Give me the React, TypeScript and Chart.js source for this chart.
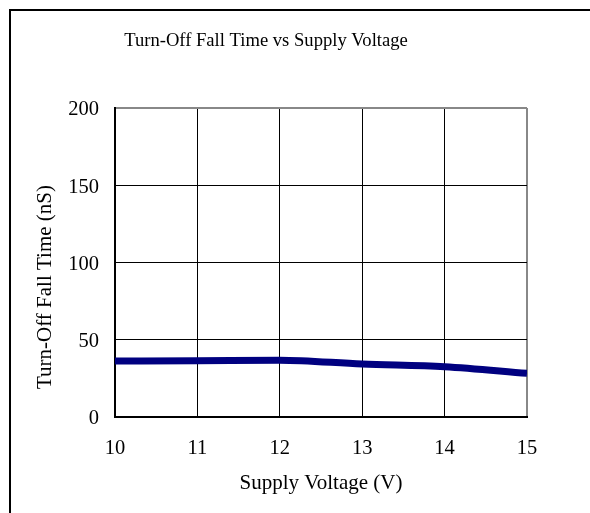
import React, { useEffect, useRef } from "react";
import { Chart, registerables } from "chart.js";

Chart.register(...registerables);

const voltages = [10, 11, 12, 13, 14, 15];
const fallTimes = [36.2, 36.4, 36.8, 34.3, 32.6, 28.3];
const yTicks = [0, 50, 100, 150, 200];
const xTicks = [10, 11, 12, 13, 14, 15];
const chartTitle = "Turn-Off Fall Time vs Supply Voltage";
const xTitle = "Supply Voltage (V)";
const yTitle = "Turn-Off Fall Time (nS)";

const FONT = "'Liberation Serif', 'Times New Roman', serif";

const textPlugin = {
  id: "customTexts",
  afterDraw(chart: any) {
    const ctx = chart.ctx;
    ctx.save();
    ctx.fillStyle = "#000";
    ctx.textAlign = "center";
    ctx.textBaseline = "middle";
    ctx.font = `18.6px ${FONT}`;
    ctx.fillText(chartTitle, 266, 41);
    ctx.font = `21px ${FONT}`;
    ctx.fillText(xTitle, 321, 483);
    ctx.translate(45, 287);
    ctx.rotate(-Math.PI / 2);
    ctx.fillText(yTitle, 0, 0);
    ctx.restore();
  },
};

export default function App() {
  const ref = useRef<HTMLCanvasElement | null>(null);

  useEffect(() => {
    if (!ref.current) return;
    const chart = new Chart(ref.current, {
      type: "line",
      data: {
        datasets: [
          {
            data: voltages.map((v, i) => ({ x: v, y: fallTimes[i] })),
            borderColor: "#000080",
            backgroundColor: "#000080",
            borderWidth: 7,
            pointRadius: 0,
            cubicInterpolationMode: "monotone",
            fill: false,
          },
        ],
      },
      options: {
        animation: false,
        responsive: true,
        maintainAspectRatio: false,
        layout: { padding: { left: 10, right: 63, top: 108, bottom: 0 } },
        plugins: {
          legend: { display: false },
          title: { display: false },
          tooltip: { enabled: false },
        },
        scales: {
          x: {
            type: "linear",
            min: 10,
            max: 15,
            afterFit: (s: any) => {
              s.height = 96;
            },
            afterBuildTicks: (s: any) => {
              s.ticks = xTicks.map((v) => ({ value: v }));
            },
            ticks: {
              color: "#000",
              font: { family: FONT, size: 20.5 },
              padding: 19,
              maxRotation: 0,
            },
            grid: {
              drawTicks: false,
              color: (c: any) => (c.tick && c.tick.value === 15 ? "#888" : "#000"),
              lineWidth: (c: any) => (c.tick && c.tick.value === 15 ? 2 : 1),
            },
            border: { color: "#000", width: 2 },
          },
          y: {
            min: 0,
            max: 200,
            afterFit: (s: any) => {
              s.width = 105;
            },
            afterBuildTicks: (s: any) => {
              s.ticks = yTicks.map((v) => ({ value: v }));
            },
            ticks: {
              color: "#000",
              font: { family: FONT, size: 20.5 },
              padding: 16,
              labelOffset: 2,
            },
            grid: {
              drawTicks: false,
              color: (c: any) => (c.tick && c.tick.value === 200 ? "#888" : "#000"),
              lineWidth: (c: any) => (c.tick && c.tick.value === 200 ? 2 : 1),
            },
            border: { color: "#000", width: 2 },
          },
        },
      },
      plugins: [textPlugin],
    });
    return () => chart.destroy();
  }, []);

  return (
    <div
      style={{
        position: "fixed",
        left: 0,
        top: 0,
        width: 590,
        height: 513,
        overflow: "hidden",
        background: "#fff",
      }}
    >
      <div
        style={{
          position: "absolute",
          left: 9,
          top: 9,
          width: 700,
          height: 700,
          borderTop: "2px solid #000",
          borderLeft: "2px solid #000",
        }}
      />
      <div style={{ position: "absolute", left: 0, top: 0, width: 590, height: 513 }}>
        <canvas ref={ref} />
      </div>
    </div>
  );
}
